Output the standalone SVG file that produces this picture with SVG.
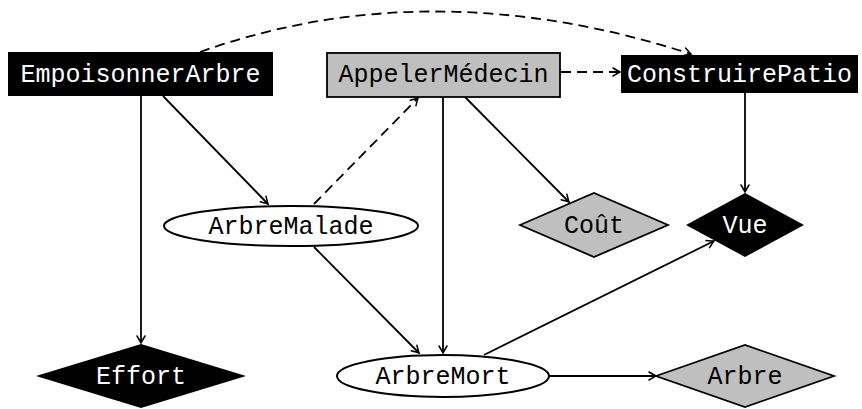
<svg xmlns="http://www.w3.org/2000/svg" width="862" height="409" viewBox="0 0 862 409">
<defs>
<marker id="arr" viewBox="-10 -6 12 12" refX="0" refY="0" markerWidth="12" markerHeight="12" markerUnits="userSpaceOnUse" orient="auto" overflow="visible">
<path d="M-7,-4 Q-2,-1 0,0 Q-2,1 -7,4" fill="none" stroke="#000" stroke-width="1.5" stroke-linecap="round"/>
</marker>
</defs>
<style>
text{font-family:"Liberation Mono","DejaVu Sans Mono",monospace;font-size:25px;text-anchor:middle}
.w{fill:#fff}
.b{fill:#000}
.blk{fill:#000;stroke:none}
.gry{fill:#bfbfbf;stroke:#000;stroke-width:1.8}
.ell{fill:#fff;stroke:#000;stroke-width:2}
.e{fill:none;stroke:#000;stroke-width:1.8;marker-end:url(#arr)}
.d{stroke-dasharray:10,6}
</style>
<g id="connectors">
<path class="e d" d="M200,52 Q430,-30 691,54"/>
<path class="e d" d="M561,72 L620,72"/>
<path class="e d" d="M314,204 L418,98"/>
<path class="e" d="M141,96 L141,343"/>
<path class="e" d="M163,96 L268,204"/>
<path class="e" d="M443,97 L443,353"/>
<path class="e" d="M465,97 L569,202"/>
<path class="e" d="M745,93 L745,192"/>
<path class="e" d="M314,247 L419,353"/>
<path class="e" d="M484,355 L714,241"/>
<path class="e" d="M549,376 L656,376"/>
</g>
<g id="EmpoisonnerArbre">
<rect class="blk" x="8" y="52" width="265" height="44"/>
<text class="w" x="140.5" y="82">EmpoisonnerArbre</text>
</g>
<g id="AppelerMedecin">
<rect class="gry" x="327" y="53" width="233" height="44"/>
<text class="b" x="443.5" y="82">AppelerMédecin</text>
</g>
<g id="ConstruirePatio">
<rect class="blk" x="621" y="55" width="237" height="38"/>
<text class="w" x="739.5" y="82">ConstruirePatio</text>
</g>
<g id="ArbreMalade">
<ellipse class="ell" cx="291" cy="226" rx="127" ry="20"/>
<text class="b" x="291" y="234">ArbreMalade</text>
</g>
<g id="ArbreMort">
<ellipse class="ell" cx="443" cy="376" rx="106" ry="21"/>
<text class="b" x="443" y="384">ArbreMort</text>
</g>
<g id="Effort">
<polygon class="blk" points="36,376 141,344 246,376 141,408"/>
<text class="w" x="141" y="384">Effort</text>
</g>
<g id="Cout">
<polygon class="gry" points="520,225 594,193 668,225 594,257"/>
<text class="b" x="594" y="233">Coût</text>
</g>
<g id="Vue">
<polygon class="blk" points="686,225 745,193 804,225 745,257"/>
<text class="w" x="745" y="233">Vue</text>
</g>
<g id="Arbre">
<polygon class="gry" points="656,376 745,345 834,376 745,407"/>
<text class="b" x="745" y="384">Arbre</text>
</g>
</svg>
